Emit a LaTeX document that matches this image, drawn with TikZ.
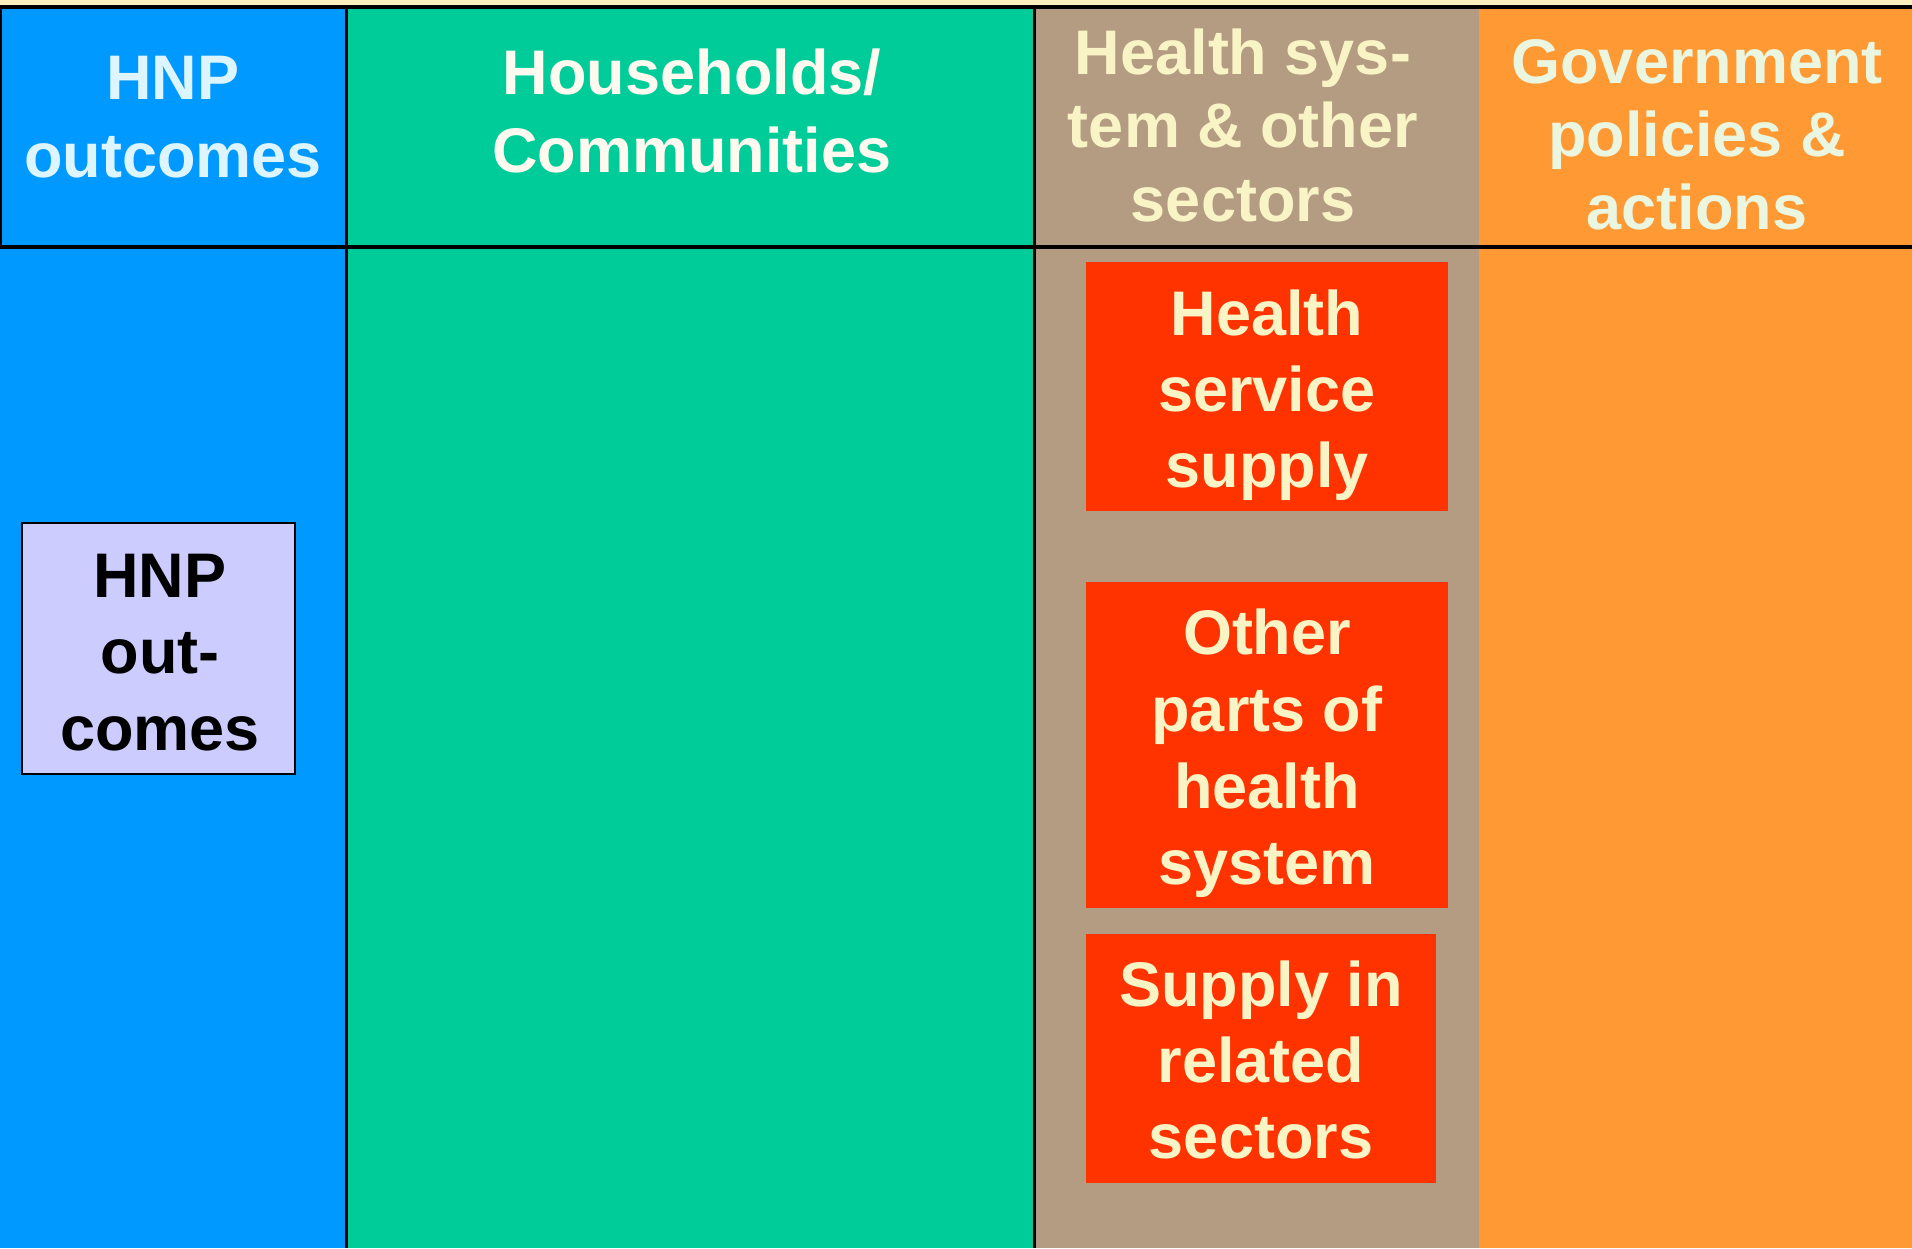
\documentclass[tikz,border=0pt]{standalone}
\usepackage{fontspec}
\setmainfont{Liberation Sans}
\definecolor{cream}{HTML}{FAF0C0}
\definecolor{cblue}{HTML}{0099FF}
\definecolor{cgreen}{HTML}{00CC99}
\definecolor{ctan}{HTML}{B49C82}
\definecolor{corange}{HTML}{FF9933}
\definecolor{cred}{HTML}{FF3300}
\definecolor{txtcream}{HTML}{F9F4C6}
\definecolor{txtblue}{HTML}{DDF5FF}
\definecolor{txtwhite}{HTML}{FFFAF0}
\definecolor{txtgreen}{HTML}{EAF6E0}
\definecolor{lilac}{HTML}{CCCCFF}
\newcommand{\mlines}[1]{\begin{tabular}[t]{@{}c@{}}#1\end{tabular}}
\begin{document}
\begin{tikzpicture}[x=1pt,y=-1pt,
  lbl/.style={anchor=base, inner sep=0pt, outer sep=0pt, font=\bfseries\fontsize{63}{#1}\selectfont},
  redbox/.style={fill=cred, draw=none, inner sep=0pt, outer sep=0pt},
  hnpbox/.style={fill=lilac, draw=black, line width=1.5pt, inner sep=0pt, outer sep=0pt}]
\useasboundingbox (0,0) rectangle (1912,1248);
% background
\fill[cream] (0,0) rectangle (1912,1248);
\fill[cblue] (0,5) rectangle (346,1248);
\fill[cgreen] (346,5) rectangle (1034,1248);
\fill[ctan] (1034,5) rectangle (1479,1248);
\fill[corange] (1479,5) rectangle (1912,1248);
% rules
\draw[line width=4pt] (0,6.5) -- (1912,6.5);
\draw[line width=4pt] (0,246.5) -- (1912,246.5);
\draw[line width=2.2pt] (346.5,6) -- (346.5,1248);
\draw[line width=2.5pt] (1034.5,6) -- (1034.5,1248);
\draw[line width=1.5pt] (0.75,6) -- (0.75,246);
% headers
\node[lbl=78, text=txtblue] (h1) at (173,99) {\mlines{HNP\\outcomes}};
\node[lbl=78, text=txtwhite] (h2) at (692,94) {\mlines{Households/\\Communities}};
\node[lbl=73.5, text=txtcream] (h3) at (1243,74) {\mlines{Health sys-\\tem \& other\\sectors}};
\node[lbl=73, text=txtgreen] (h4) at (1697,83) {\mlines{Government\\policies \&\\actions}};
% boxes
\node[hnpbox, minimum width=273pt, minimum height=251pt] (hnp) at (158.5,648.5) {};
\node[lbl=76.5, text=black] (hnpt) at (160,597) {\mlines{HNP\\out-\\comes}};
\node[redbox, minimum width=362pt, minimum height=249pt] (b1) at (1267,386.5) {};
\node[lbl=76, text=txtcream] (b1t) at (1267,335) {\mlines{Health\\service\\supply}};
\node[redbox, minimum width=362pt, minimum height=326pt] (b2) at (1267,745) {};
\node[lbl=76.8, text=txtcream] (b2t) at (1267,654.5) {\mlines{Other\\parts of\\health\\system}};
\node[redbox, minimum width=350pt, minimum height=249pt] (b3) at (1261,1058.5) {};
\node[lbl=76, text=txtcream] (b3t) at (1261,1006) {\mlines{Supply in\\related\\sectors}};
\end{tikzpicture}
\end{document}
